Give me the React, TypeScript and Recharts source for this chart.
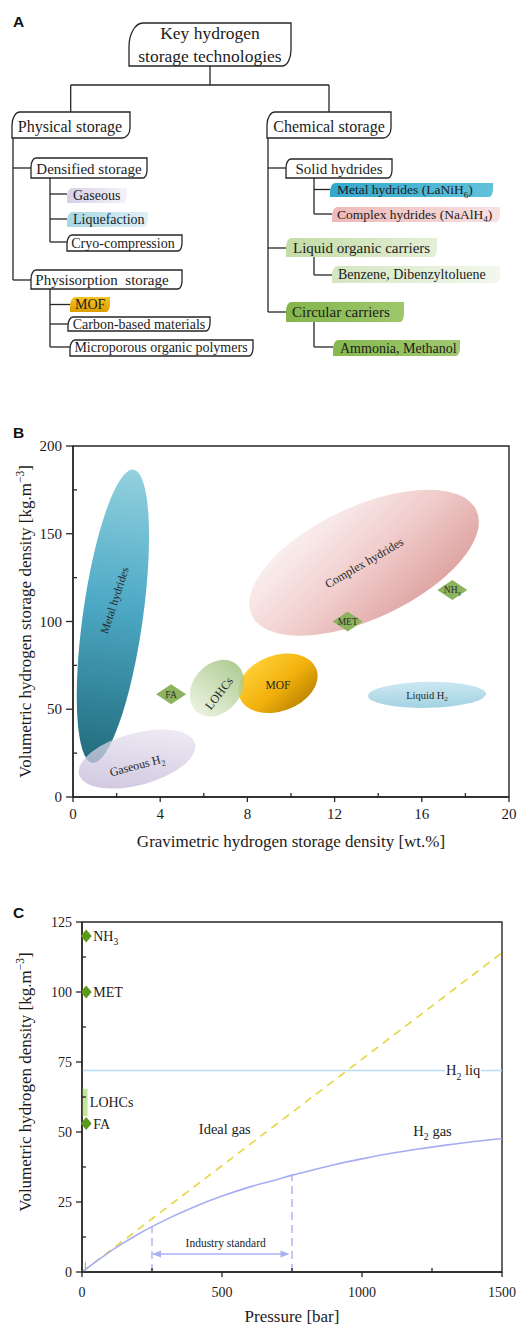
import React from 'react';
import {
  ScatterChart,
  ComposedChart,
  Scatter,
  Line,
  XAxis,
  YAxis,
  ReferenceArea,
  ReferenceLine,
  Label,
} from 'recharts';

type Part = { t: string; sub?: boolean; sup?: boolean };

const SERIF = '"Liberation Serif", "Times New Roman", Times, serif';
const SANS = '"Liberation Sans", Arial, Helvetica, sans-serif';
const INK = '#1c1c1c';
const AXIS = '#262626';

// ---------------- Panel B data ----------------
const regionNames = ['Complex hydrides', 'Metal hydrides', 'Gaseous H2', 'Liquid H2', 'MOF', 'LOHCs'];
const regionGravimetric = [13.35, 1.83, 2.94, 16.24, 9.4, 6.6];
const regionVolumetric = [133.5, 103, 21.6, 58.2, 64.8, 62];

const carrierNames = ['FA', 'MET', 'NH3'];
const carrierGravimetric = [4.5, 12.6, 17.4];
const carrierVolumetric = [58.5, 100, 118];

const bXTicks = [0, 2, 4, 6, 8, 10, 12, 14, 16, 18, 20];
const bYTicks = [0, 25, 50, 75, 100, 125, 150, 175, 200];

// ---------------- Panel C data ----------------
const pressureBar = [0, 50, 100, 150, 200, 250, 300, 400, 500, 600, 700, 750, 800, 900, 1000, 1100, 1200, 1300, 1400, 1500];
const h2GasDensity = [0, 3.7, 7.3, 10.5, 13.5, 16.2, 18.7, 23.2, 27.1, 30.4, 33.1, 34.6, 35.8, 38.3, 40.4, 42.3, 43.9, 45.3, 46.6, 47.7];
const idealGasPressure = [0, 1500];
const idealGasDensity = [0, 114];
const h2LiquidDensity = 72;
const industryRange = [250, 750];
const industryArrowLevel = 6.4;
const cCarrierNames = ['NH3', 'MET', 'FA'];
const cCarrierDensity = [120, 100, 53];
const cCarrierPressure = 15;
const lohcDensityRange = [55.7, 65.4];

const cXTicks = [0, 250, 500, 750, 1000, 1250, 1500];
const cYTicks = [0, 12.5, 25, 37.5, 50, 62.5, 75, 87.5, 100, 112.5, 125];

// ---------------- helpers ----------------
function Rich({ parts, size }: { parts: Part[]; size: number }) {
  let shift = 0;
  return (
    <>
      {parts.map((p, i) => {
        const target = p.sub ? size * 0.28 : p.sup ? -size * 0.42 : 0;
        const dy = target - shift;
        shift = target;
        return (
          <tspan key={i} dy={dy !== 0 ? dy : undefined} fontSize={p.sub || p.sup ? size * 0.68 : size}>
            {p.t}
          </tspan>
        );
      })}
    </>
  );
}

function leaf(x: number, y: number, w: number, h: number, r1: number[], r2: number[]) {
  return `M${x},${y + h} L${x},${y + r1[1]} A${r1[0]},${r1[1]} 0 0 1 ${x + r1[0]},${y} L${x + w},${y} L${x + w},${y + h - r2[1]} A${r2[0]},${r2[1]} 0 0 1 ${x + w - r2[0]},${y + h} Z`;
}

// ---------------- Panel A (tree diagram) ----------------
type TreeNode = {
  x: number; y: number; w: number; h: number;
  r1: number[]; r2: number[];
  fill: string; stroke: boolean;
  size: number; anchor: 'start' | 'middle'; tx: number;
  lines: { ty: number; parts: Part[] }[];
};

const SM1 = [5, 9];
const SM2 = [4, 8];

const treeNodes: TreeNode[] = [
  { x: 129, y: 23, w: 162, h: 43, r1: [14, 24], r2: [9, 16], fill: '#fff', stroke: true, size: 17.5, anchor: 'middle', tx: 210,
    lines: [{ ty: 38.5, parts: [{ t: 'Key hydrogen' }] }, { ty: 61.5, parts: [{ t: 'storage technologies' }] }] },
  { x: 12, y: 112, w: 118, h: 26, r1: [8, 13], r2: [8, 10], fill: '#fff', stroke: true, size: 16, anchor: 'middle', tx: 70,
    lines: [{ ty: 132, parts: [{ t: 'Physical storage' }] }] },
  { x: 267, y: 112, w: 124, h: 26, r1: [8, 13], r2: [8, 10], fill: '#fff', stroke: true, size: 16, anchor: 'middle', tx: 329,
    lines: [{ ty: 132, parts: [{ t: 'Chemical storage' }] }] },
  { x: 31, y: 158, w: 116, h: 20, r1: SM1, r2: SM2, fill: '#fff', stroke: true, size: 15, anchor: 'middle', tx: 89,
    lines: [{ ty: 173.5, parts: [{ t: 'Densified storage' }] }] },
  { x: 67, y: 188, w: 60, h: 15, r1: SM1, r2: SM2, fill: 'url(#tGas)', stroke: false, size: 14, anchor: 'start', tx: 73,
    lines: [{ ty: 199.5, parts: [{ t: 'Gaseous' }] }] },
  { x: 67, y: 212, w: 81, h: 15, r1: SM1, r2: SM2, fill: 'url(#tLiq)', stroke: false, size: 14, anchor: 'start', tx: 73,
    lines: [{ ty: 224, parts: [{ t: 'Liquefaction' }] }] },
  { x: 67, y: 235, w: 115, h: 16, r1: SM1, r2: SM2, fill: '#fff', stroke: true, size: 14, anchor: 'middle', tx: 123,
    lines: [{ ty: 247.5, parts: [{ t: 'Cryo-compression' }] }] },
  { x: 31, y: 270, w: 151, h: 19, r1: SM1, r2: SM2, fill: '#fff', stroke: true, size: 15, anchor: 'middle', tx: 102,
    lines: [{ ty: 284.5, parts: [{ t: 'Physisorption\u00A0 storage' }] }] },
  { x: 70, y: 297, w: 40, h: 15, r1: SM1, r2: SM2, fill: 'url(#tMOF)', stroke: false, size: 14, anchor: 'start', tx: 75,
    lines: [{ ty: 308.5, parts: [{ t: 'MOF' }] }] },
  { x: 68, y: 317, w: 142, h: 14, r1: SM1, r2: SM2, fill: '#fff', stroke: true, size: 14, anchor: 'middle', tx: 139,
    lines: [{ ty: 328.5, parts: [{ t: 'Carbon-based materials' }] }] },
  { x: 70, y: 340, w: 183, h: 16, r1: SM1, r2: SM2, fill: '#fff', stroke: true, size: 14, anchor: 'middle', tx: 161,
    lines: [{ ty: 352, parts: [{ t: 'Microporous organic polymers' }] }] },
  { x: 286, y: 159, w: 106, h: 19, r1: SM1, r2: SM2, fill: '#fff', stroke: true, size: 15, anchor: 'middle', tx: 339,
    lines: [{ ty: 173.5, parts: [{ t: 'Solid hydrides' }] }] },
  { x: 330, y: 183, w: 163, h: 14, r1: SM1, r2: SM2, fill: 'url(#tMetal)', stroke: false, size: 13.5, anchor: 'start', tx: 337,
    lines: [{ ty: 194, parts: [{ t: 'Metal hydrides (LaNiH' }, { t: '6', sub: true }, { t: ')' }] }] },
  { x: 332, y: 207, w: 168, h: 15, r1: SM1, r2: SM2, fill: 'url(#tComplex)', stroke: false, size: 13.5, anchor: 'start', tx: 337,
    lines: [{ ty: 218.5, parts: [{ t: 'Complex hydrides (NaAlH' }, { t: '4', sub: true }, { t: ')' }] }] },
  { x: 286, y: 238, w: 151, h: 19, r1: SM1, r2: SM2, fill: 'url(#tLOC)', stroke: false, size: 15, anchor: 'start', tx: 293,
    lines: [{ ty: 252.5, parts: [{ t: 'Liquid organic carriers' }] }] },
  { x: 332, y: 266, w: 168, h: 17, r1: SM1, r2: SM2, fill: 'url(#tBenz)', stroke: false, size: 14, anchor: 'start', tx: 338,
    lines: [{ ty: 279, parts: [{ t: 'Benzene, Dibenzyltoluene' }] }] },
  { x: 286, y: 302, w: 118, h: 20, r1: SM1, r2: SM2, fill: 'url(#tCirc)', stroke: false, size: 15, anchor: 'start', tx: 292,
    lines: [{ ty: 316.5, parts: [{ t: 'Circular carriers' }] }] },
  { x: 333, y: 340, w: 127, h: 16, r1: SM1, r2: SM2, fill: 'url(#tAmm)', stroke: false, size: 14, anchor: 'start', tx: 340,
    lines: [{ ty: 352.5, parts: [{ t: 'Ammonia, Methanol' }] }] },
];

const treeLinks = [
  [210, 66, 210, 85], [70.7, 85, 329, 85], [70.7, 85, 70.7, 112], [329, 85, 329, 112],
  [13, 138, 13, 280], [13, 168, 31, 168], [13, 280, 31, 280],
  [50, 178, 50, 242], [50, 194, 67, 194], [50, 219, 67, 219], [50, 242, 67, 242],
  [50, 289, 50, 347], [50, 304.5, 70, 304.5], [50, 324, 68, 324], [50, 347, 70, 347],
  [268, 138, 268, 312], [268, 168, 286, 168], [268, 248, 286, 248], [268, 312, 286, 312],
  [314, 178, 314, 214], [314, 189.5, 330, 189.5], [314, 214, 332, 214],
  [314, 257, 314, 275], [314, 275, 332, 275],
  [314, 322, 314, 347], [314, 347, 333, 347],
];

const treeGradients: { id: string; stops: string[]; vertical?: boolean }[] = [
  { id: 'tGas', stops: ['#d8cfe7', '#f5f2f9'] },
  { id: 'tLiq', stops: ['#a6d7e5', '#e0f1f6'] },
  { id: 'tMOF', stops: ['#f7c424', '#dc9d00'], vertical: true },
  { id: 'tMetal', stops: ['#33a8cd', '#62c1da'] },
  { id: 'tComplex', stops: ['#eeb8b8', '#f8e1e1'] },
  { id: 'tLOC', stops: ['#c4dca6', '#e4efd7'] },
  { id: 'tBenz', stops: ['#d3e6c0', '#f3f8ee'] },
  { id: 'tCirc', stops: ['#84b54b', '#9dc76c'] },
  { id: 'tAmm', stops: ['#86b84e', '#a0c970'] },
];

function PanelA() {
  return (
    <svg width={517} height={372} style={{ position: 'absolute', left: 0, top: 0 }}>
      <defs>
        {treeGradients.map((g) => (
          <linearGradient key={g.id} id={g.id} x1={0} y1={0} x2={g.vertical ? 0 : 1} y2={g.vertical ? 1 : 0}>
            <stop offset="0" stopColor={g.stops[0]} />
            <stop offset="1" stopColor={g.stops[1]} />
          </linearGradient>
        ))}
      </defs>
      {treeLinks.map((l, i) => (
        <line key={i} x1={l[0]} y1={l[1]} x2={l[2]} y2={l[3]} stroke={AXIS} strokeWidth={1.3} />
      ))}
      {treeNodes.map((n, i) => (
        <g key={i}>
          <path
            d={leaf(n.x, n.y, n.w, n.h, n.r1, n.r2)}
            fill={n.fill}
            stroke={n.stroke ? AXIS : 'none'}
            strokeWidth={1.3}
          />
          {n.lines.map((ln, j) => (
            <text key={j} x={n.tx} y={ln.ty} textAnchor={n.anchor} fontFamily={SERIF} fontSize={n.size} fill={INK}>
              <Rich parts={ln.parts} size={n.size} />
            </text>
          ))}
        </g>
      ))}
    </svg>
  );
}

// ---------------- Panel B ----------------
const B_W = 517, B_H = 480, B_MT = 66, B_MR = 8, B_YW = 73, B_XH = 63;
const B_PW = B_W - B_YW - B_MR;
const B_PH = B_H - B_MT - B_XH;

type RegionStyle = {
  rx: number; ry: number; rot: number; opacity: number;
  grad: number[]; stops: [number, string][];
  label: Part[]; ldx: number; ldy: number; lrot: number; lsize: number;
};

const REGION_STYLE: Record<string, RegionStyle> = {
  'Complex hydrides': { rx: 124, ry: 56, rot: -25, opacity: 1, grad: [0.1, 0.1, 0.8, 1],
    stops: [[0, '#fbf2f2'], [0.5, '#f0cdcc'], [1, '#dc9f9d']],
    label: [{ t: 'Complex hydrides' }], ldx: 0, ldy: 0, lrot: -30, lsize: 12 },
  'Metal hydrides': { rx: 30, ry: 148, rot: 8, opacity: 1, grad: [0, 0, 0, 1],
    stops: [[0, '#93d1de'], [0.45, '#4eaac6'], [1, '#216b7c']],
    label: [{ t: 'Metal hydrides' }], ldx: 1.5, ldy: -16, lrot: -72, lsize: 11.5 },
  'Gaseous H2': { rx: 60, ry: 26, rot: -15, opacity: 0.75, grad: [0, 1, 0.9, 0],
    stops: [[0, '#bcafd2'], [1, '#ede8f4']],
    label: [{ t: 'Gaseous H' }, { t: '2', sub: true }], ldx: 0, ldy: 6, lrot: -15, lsize: 12 },
  'Liquid H2': { rx: 59, ry: 13, rot: -1, opacity: 1, grad: [0, 0, 0, 1],
    stops: [[0, '#cce8f2'], [1, '#a3d2e2']],
    label: [{ t: 'Liquid H' }, { t: '2', sub: true }], ldx: 0, ldy: 0, lrot: 0, lsize: 10.5 },
  MOF: { rx: 41, ry: 28, rot: -20, opacity: 1, grad: [0.2, 0, 0.8, 1],
    stops: [[0, '#ffd23a'], [0.55, '#f2b10c'], [1, '#b98200']],
    label: [{ t: 'MOF' }], ldx: 0, ldy: 2, lrot: 0, lsize: 11.5 },
  LOHCs: { rx: 31, ry: 24, rot: -50, opacity: 0.82, grad: [0, 0, 1, 0],
    stops: [[0, '#e4efd7'], [1, '#a0c27e']],
    label: [{ t: 'LOHCs' }], ldx: 2, ldy: 5, lrot: -52, lsize: 12 },
};

const regionData = regionNames.map((name, i) => ({ name, x: regionGravimetric[i], y: regionVolumetric[i] }));
const carrierData = carrierNames.map((name, i) => ({ name, x: carrierGravimetric[i], y: carrierVolumetric[i] }));

const RegionShape = (props: any) => {
  const { cx, cy, payload } = props;
  if (cx == null || cy == null || !payload) return <g />;
  const s = REGION_STYLE[payload.name];
  if (!s) return <g />;
  const id = 'reg-' + payload.name.replace(/[^a-zA-Z]/g, '');
  return (
    <g>
      <defs>
        <linearGradient id={id} x1={s.grad[0]} y1={s.grad[1]} x2={s.grad[2]} y2={s.grad[3]}>
          {s.stops.map((st, i) => (
            <stop key={i} offset={st[0]} stopColor={st[1]} />
          ))}
        </linearGradient>
      </defs>
      <ellipse
        cx={0}
        cy={0}
        rx={s.rx}
        ry={s.ry}
        transform={`translate(${cx},${cy}) rotate(${s.rot})`}
        fill={`url(#${id})`}
        opacity={s.opacity}
      />
      <text
        transform={`translate(${cx + s.ldx},${cy + s.ldy}) rotate(${s.lrot})`}
        x={0}
        y={s.lsize * 0.35}
        textAnchor="middle"
        fontFamily={SERIF}
        fontSize={s.lsize}
        fill="#262626"
      >
        <Rich parts={s.label} size={s.lsize} />
      </text>
    </g>
  );
};

const carrierLabel = (name: string): Part[] =>
  name === 'NH3' ? [{ t: 'NH' }, { t: '3', sub: true }] : [{ t: name }];

const DiamondB = (props: any) => {
  const { cx, cy, payload } = props;
  if (cx == null || cy == null || !payload) return <g />;
  return (
    <g>
      <polygon
        points={`${cx},${cy - 10} ${cx + 15},${cy} ${cx},${cy + 10} ${cx - 15},${cy}`}
        fill="#8cb45f"
      />
      <text x={cx} y={cy + 3.3} textAnchor="middle" fontFamily={SERIF} fontSize={9.5} fill="#2b2b2b">
        <Rich parts={carrierLabel(payload.name)} size={9.5} />
      </text>
    </g>
  );
};

const BXTick = (props: any) => {
  const { x, y, payload } = props;
  const v = payload.value;
  const major = v % 4 === 0;
  return (
    <g>
      <line x1={x} y1={y} x2={x} y2={major ? y + 5 : y - 4} stroke={AXIS} strokeWidth={1.3} />
      {major && (
        <text x={x} y={y + 21.5} textAnchor="middle" fontFamily={SERIF} fontSize={15} fill={INK}>
          {v}
        </text>
      )}
    </g>
  );
};

const BYTick = (props: any) => {
  const { x, y, payload } = props;
  const v = payload.value;
  const major = v % 50 === 0;
  return (
    <g>
      <line x1={x} y1={y} x2={major ? x - 7 : x + 4} y2={y} stroke={AXIS} strokeWidth={1.3} />
      {major && (
        <text x={x - 11} y={y + 5} textAnchor="end" fontFamily={SERIF} fontSize={15} fill={INK}>
          {v}
        </text>
      )}
    </g>
  );
};

function ChartB() {
  return (
    <ScatterChart width={B_W} height={B_H} margin={{ top: B_MT, right: B_MR, bottom: 0, left: 0 }}>
      <XAxis
        type="number"
        dataKey="x"
        domain={[0, 20]}
        ticks={bXTicks}
        interval={0}
        height={B_XH}
        tickLine={false}
        tickSize={0}
        tickMargin={0}
        axisLine={{ stroke: AXIS, strokeWidth: 1.4 }}
        tick={BXTick}
      >
        <Label
          content={() => (
            <text x={B_YW + B_PW / 2} y={B_MT + B_PH + 50} textAnchor="middle" fontFamily={SERIF} fontSize={17} fill={INK}>
              Gravimetric hydrogen storage density [wt.%]
            </text>
          )}
        />
      </XAxis>
      <YAxis
        type="number"
        dataKey="y"
        domain={[0, 200]}
        ticks={bYTicks}
        interval={0}
        width={B_YW}
        tickLine={false}
        tickSize={0}
        tickMargin={0}
        axisLine={{ stroke: AXIS, strokeWidth: 1.4 }}
        tick={BYTick}
      >
        <Label
          content={() => (
            <text
              transform={`translate(31,${B_MT + B_PH / 2}) rotate(-90)`}
              x={0}
              y={0}
              textAnchor="middle"
              fontFamily={SERIF}
              fontSize={17}
              fill={INK}
            >
              <Rich parts={[{ t: 'Volumetric hydrogen storage density [kg.m' }, { t: '\u22123', sup: true }, { t: ']' }]} size={17} />
            </text>
          )}
        />
      </YAxis>
      <ReferenceArea x1={0} x2={20} y1={0} y2={200} fill="none" stroke={AXIS} strokeWidth={1.4} />
      <Scatter data={regionData} shape={RegionShape} isAnimationActive={false} />
      <Scatter data={carrierData} shape={DiamondB} isAnimationActive={false} />
    </ScatterChart>
  );
}

// ---------------- Panel C ----------------
const C_W = 517, C_H = 457, C_MT = 52, C_MR = 15, C_YW = 82, C_XH = 55;
const C_PW = C_W - C_YW - C_MR;
const C_PH = C_H - C_MT - C_XH;

const h2GasData = pressureBar.map((p, i) => ({ p, v: h2GasDensity[i] }));
const idealData = idealGasPressure.map((p, i) => ({ p, v: idealGasDensity[i] }));
const gasAt = (p: number) => h2GasDensity[pressureBar.indexOf(p)];
const cCarrierData = cCarrierNames.map((name, i) => ({ name, p: cCarrierPressure, v: cCarrierDensity[i] }));
const arrowData = [
  { p: industryRange[0], v: industryArrowLevel, dir: -1 },
  { p: industryRange[1] - 9, v: industryArrowLevel, dir: 1 },
];

type Note = { p: number; v: number; parts: Part[]; size: number; anchor: 'start' | 'middle'; knockout?: number };
const cNotes: Note[] = [
  { p: 510, v: 51, parts: [{ t: 'Ideal gas' }], size: 14.5, anchor: 'middle' },
  { p: 1252, v: 50.3, parts: [{ t: 'H' }, { t: '2', sub: true }, { t: ' gas' }], size: 14.5, anchor: 'middle' },
  { p: 513, v: 10.5, parts: [{ t: 'Industry standard' }], size: 11.5, anchor: 'middle' },
  { p: 1361, v: h2LiquidDensity, parts: [{ t: 'H' }, { t: '2', sub: true }, { t: ' liq' }], size: 14.5, anchor: 'middle', knockout: 36 },
  { p: 28, v: 60.6, parts: [{ t: 'LOHCs' }], size: 14, anchor: 'start' },
];

const NoteShape = (props: any) => {
  const { cx, cy, payload } = props;
  if (cx == null || cy == null || !payload) return <g />;
  const n = payload as Note;
  return (
    <g>
      {n.knockout && <rect x={cx - n.knockout / 2} y={cy - 6} width={n.knockout} height={12} fill="#fff" />}
      <text x={cx} y={cy + n.size * 0.35} textAnchor={n.anchor} fontFamily={SERIF} fontSize={n.size} fill={INK}>
        <Rich parts={n.parts} size={n.size} />
      </text>
    </g>
  );
};

const DiamondC = (props: any) => {
  const { cx, cy, payload } = props;
  if (cx == null || cy == null || !payload) return <g />;
  return (
    <g>
      <polygon points={`${cx},${cy - 6.5} ${cx + 5.5},${cy} ${cx},${cy + 6.5} ${cx - 5.5},${cy}`} fill="#5c9a1c" />
      <text x={cx + 7} y={cy + 5} textAnchor="start" fontFamily={SERIF} fontSize={14} fill={INK}>
        <Rich parts={carrierLabel(payload.name)} size={14} />
      </text>
    </g>
  );
};

const ArrowHead = (props: any) => {
  const { cx, cy, payload } = props;
  if (cx == null || cy == null || !payload) return <g />;
  const d = payload.dir;
  return (
    <polygon
      points={`${cx},${cy} ${cx - d * 9},${cy - 3.5} ${cx - d * 9},${cy + 3.5}`}
      fill="#a9b1f3"
    />
  );
};

const CXTick = (props: any) => {
  const { x, y, payload } = props;
  const v = payload.value;
  const major = v % 500 === 0;
  return (
    <g>
      <line x1={x} y1={y} x2={x} y2={major ? y + 5 : y - 4} stroke={AXIS} strokeWidth={1.3} />
      {major && (
        <text x={x} y={y + 25} textAnchor="middle" fontFamily={SERIF} fontSize={14} fill={INK}>
          {v}
        </text>
      )}
    </g>
  );
};

const CYTick = (props: any) => {
  const { x, y, payload } = props;
  const v = payload.value;
  const major = v % 25 === 0;
  return (
    <g>
      <line x1={x} y1={y} x2={major ? x - 6 : x + 4} y2={y} stroke={AXIS} strokeWidth={1.3} />
      {major && (
        <text x={x - 10} y={y + 5} textAnchor="end" fontFamily={SERIF} fontSize={14} fill={INK}>
          {v}
        </text>
      )}
    </g>
  );
};

function ChartC() {
  const lineStroke = '#a6adf3';
  return (
    <ComposedChart width={C_W} height={C_H} margin={{ top: C_MT, right: C_MR, bottom: 0, left: 0 }}>
      <XAxis
        type="number"
        dataKey="p"
        domain={[0, 1500]}
        ticks={cXTicks}
        interval={0}
        height={C_XH}
        tickLine={false}
        tickSize={0}
        tickMargin={0}
        axisLine={{ stroke: AXIS, strokeWidth: 1.4 }}
        tick={CXTick}
        allowDuplicatedCategory={false}
      >
        <Label
          content={() => (
            <text x={C_YW + C_PW / 2} y={C_MT + C_PH + 50} textAnchor="middle" fontFamily={SERIF} fontSize={17} fill={INK}>
              Pressure [bar]
            </text>
          )}
        />
      </XAxis>
      <YAxis
        type="number"
        dataKey="v"
        domain={[0, 125]}
        ticks={cYTicks}
        interval={0}
        width={C_YW}
        tickLine={false}
        tickSize={0}
        tickMargin={0}
        axisLine={{ stroke: AXIS, strokeWidth: 1.4 }}
        tick={CYTick}
      >
        <Label
          content={() => (
            <text
              transform={`translate(31,${C_MT + C_PH / 2 - 15}) rotate(-90)`}
              x={0}
              y={0}
              textAnchor="middle"
              fontFamily={SERIF}
              fontSize={17}
              fill={INK}
            >
              <Rich parts={[{ t: 'Volumetric hydrogen density [kg.m' }, { t: '\u22123', sup: true }, { t: ']' }]} size={17} />
            </text>
          )}
        />
      </YAxis>
      <ReferenceArea x1={0} x2={1500} y1={0} y2={125} fill="none" stroke={AXIS} strokeWidth={1.4} />
      <ReferenceArea x1={0} x2={20} y1={lohcDensityRange[0]} y2={lohcDensityRange[1]} fill="#c3e59c" fillOpacity={1} stroke="none" />
      <ReferenceLine y={h2LiquidDensity} stroke="#b9dcf3" strokeWidth={1.5} />
      <ReferenceLine
        segment={[{ x: industryRange[0], y: 0 }, { x: industryRange[0], y: gasAt(industryRange[0]) }]}
        stroke="#b0b7f6"
        strokeWidth={1.5}
        strokeDasharray="8 5"
      />
      <ReferenceLine
        segment={[{ x: industryRange[1], y: 0 }, { x: industryRange[1], y: gasAt(industryRange[1]) }]}
        stroke="#b0b7f6"
        strokeWidth={1.5}
        strokeDasharray="8 5"
      />
      <ReferenceLine
        segment={[{ x: industryRange[0] + 5, y: industryArrowLevel }, { x: industryRange[1] - 14, y: industryArrowLevel }]}
        stroke="#a9b1f3"
        strokeWidth={1.5}
      />
      <ReferenceLine segment={[{ x: 12, y: 0 }, { x: 12, y: 3.5 }]} stroke="#9a9a9a" strokeWidth={1} />
      <Line
        data={idealData}
        dataKey="v"
        type="linear"
        stroke="#e5d640"
        strokeWidth={1.6}
        strokeDasharray="8 6"
        dot={false}
        activeDot={false}
        isAnimationActive={false}
      />
      <Line
        data={h2GasData}
        dataKey="v"
        type="monotone"
        stroke={lineStroke}
        strokeWidth={1.6}
        dot={false}
        activeDot={false}
        isAnimationActive={false}
      />
      <Scatter data={arrowData} dataKey="v" shape={ArrowHead} isAnimationActive={false} />
      <Scatter data={cNotes} dataKey="v" shape={NoteShape} isAnimationActive={false} />
      <Scatter data={cCarrierData} dataKey="v" shape={DiamondC} isAnimationActive={false} />
    </ComposedChart>
  );
}

// ---------------- App ----------------
export default function App() {
  return (
    <div
      style={{
        position: 'absolute',
        left: 0,
        top: 0,
        width: 517,
        height: 1327,
        background: '#fff',
        overflow: 'hidden',
        fontFamily: SERIF,
      }}
    >
      <PanelA />
      <div style={{ position: 'absolute', left: 0, top: 380 }}>
        <ChartB />
      </div>
      <div style={{ position: 'absolute', left: 0, top: 870 }}>
        <ChartC />
      </div>
      <svg width={517} height={1327} style={{ position: 'absolute', left: 0, top: 0, pointerEvents: 'none' }}>
        <text x={13} y={26.5} fontFamily={SANS} fontWeight="bold" fontSize={15.5} fill="#111">A</text>
        <text x={13} y={437.5} fontFamily={SANS} fontWeight="bold" fontSize={15.5} fill="#111">B</text>
        <text x={13} y={917.5} fontFamily={SANS} fontWeight="bold" fontSize={15.5} fill="#111">C</text>
      </svg>
    </div>
  );
}
